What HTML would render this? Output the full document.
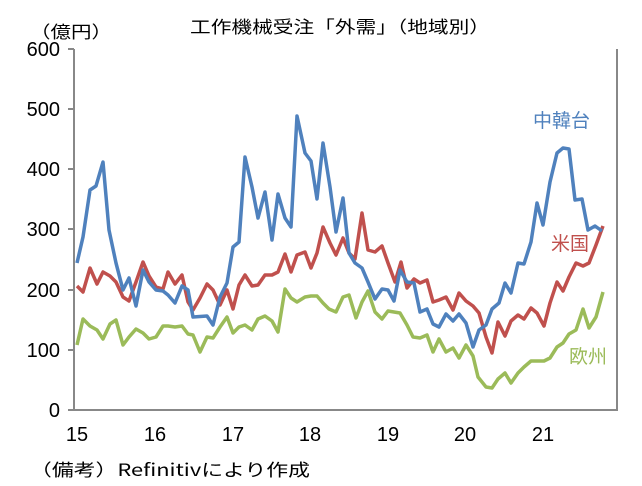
<!DOCTYPE html>
<html><head><meta charset="utf-8"><style>
body{margin:0;background:#fff}
svg{display:block;font-family:"Noto Sans CJK JP","Liberation Sans",sans-serif}
</style></head><body>
<svg width="642" height="486" viewBox="0 0 642 486" xmlns="http://www.w3.org/2000/svg">
<rect width="642" height="486" fill="#fff"/>
<text x="190" y="33" font-size="17" textLength="300" lengthAdjust="spacingAndGlyphs" fill="#000">工作機械受注「外需」（地域別）</text>
<text x="30" y="38" font-size="17" textLength="82" lengthAdjust="spacingAndGlyphs" fill="#000">（億円）</text>
<g fill="none" stroke="#888" stroke-width="2">
<path d="M74 49V410H617V49"/>
<path d="M68 49H74M68 109H74M68 169H74M68 229H74M68 290H74M68 350H74M68 410H74"/>
</g>
<g font-size="20" text-anchor="end" fill="#000" font-family="Liberation Sans, sans-serif">
<text x="60" y="56">600</text><text x="60" y="116">500</text><text x="60" y="176">400</text>
<text x="60" y="236">300</text><text x="60" y="297">200</text><text x="60" y="357">100</text><text x="60" y="417">0</text>
</g>
<g font-size="20" text-anchor="middle" fill="#000" font-family="Liberation Sans, sans-serif">
<text x="77" y="441">15</text><text x="155" y="441">16</text><text x="233" y="441">17</text>
<text x="310" y="441">18</text><text x="388" y="441">19</text><text x="465" y="441">20</text><text x="543" y="441">21</text>
</g>
<g fill="none" stroke-width="3.5" stroke-linejoin="round">
<polyline stroke="#9bbb59" points="77,345 83,319 90,326 97,330 103,339 110,324 116,320 123,345 129,337 136,329 143,333 149,339 156,337 163,326 168,326 175,327 182,326 188,334 193,335 200,352 207,337 213,338 220,327 227,317 233,333 239,327 245,325 252,330 258,319 265,316 272,321 278,332 285,289 291,298 297,302 305,297 311,296 317,296 323,303 329,309 336,312 343,297 349,295 356,318 362,302 368,291 375,312 382,319 388,311 394,312 400,313 407,325 413,337 420,338 427,335 433,352 439,339 446,352 453,348 459,358 466,345 473,356 478,377 486,387 492,388 498,379 505,373 511,383 518,373 524,367 531,361 537,361 544,361 550,358 557,347 563,343 569,334 576,330 583,309 589,328 596,317 603,292"/>
<polyline stroke="#c0504d" points="77,286 83,292 90,268 97,284 103,272 110,276 116,282 123,297 129,301 136,282 143,262 149,276 156,287 163,289 168,272 175,284 182,275 188,302 193,310 200,298 207,284 213,290 220,305 227,290 233,309 239,285 245,275 252,286 258,285 265,275 272,275 278,272 285,254 291,272 297,255 305,252 311,268 317,253 323,227 330,243 336,255 343,238 349,253 355,259 362,213 368,250 375,252 382,246 388,263 395,282 401,262 407,288 414,279 420,283 427,280 433,302 439,300 446,297 453,310 459,293 466,301 473,306 479,313 486,337 492,353 498,322 505,336 511,321 518,315 524,319 531,308 537,313 544,326 550,303 557,282 563,291 569,277 576,263 583,266 589,263 596,245 603,226"/>
<polyline stroke="#4f81bd" points="77,263 83,237 90,190 96,186 103,162 109,230 116,263 123,290 129,278 136,306 143,270 149,282 156,290 163,291 168,295 175,303 182,286 188,290 193,317 207,316 213,325 220,297 227,283 233,247 239,242 245,157 252,187 258,218 265,192 272,240 278,194 285,218 291,227 297,116 305,153 311,161 317,199 323,143 330,187 336,232 343,198 349,253 355,263 362,268 368,282 375,299 382,289 388,290 394,301 400,270 407,282 414,283 420,312 427,309 433,324 439,327 446,314 453,321 459,314 466,323 473,347 479,330 486,325 492,309 499,303 505,283 511,293 518,263 524,264 531,242 537,203 543,225 550,182 557,153 563,148 569,149 575,200 582,199 588,230 595,226 602,231"/>
</g>
<text x="533" y="127" font-size="19" fill="#4f81bd">中韓台</text>
<text x="551" y="250" font-size="19" fill="#c0504d">米国</text>
<text x="569" y="363" font-size="19" fill="#9bbb59">欧州</text>
<text x="30" y="476" font-size="17" textLength="280" lengthAdjust="spacingAndGlyphs" fill="#000">（備考）Refinitivにより作成</text>
</svg>
</body></html>
